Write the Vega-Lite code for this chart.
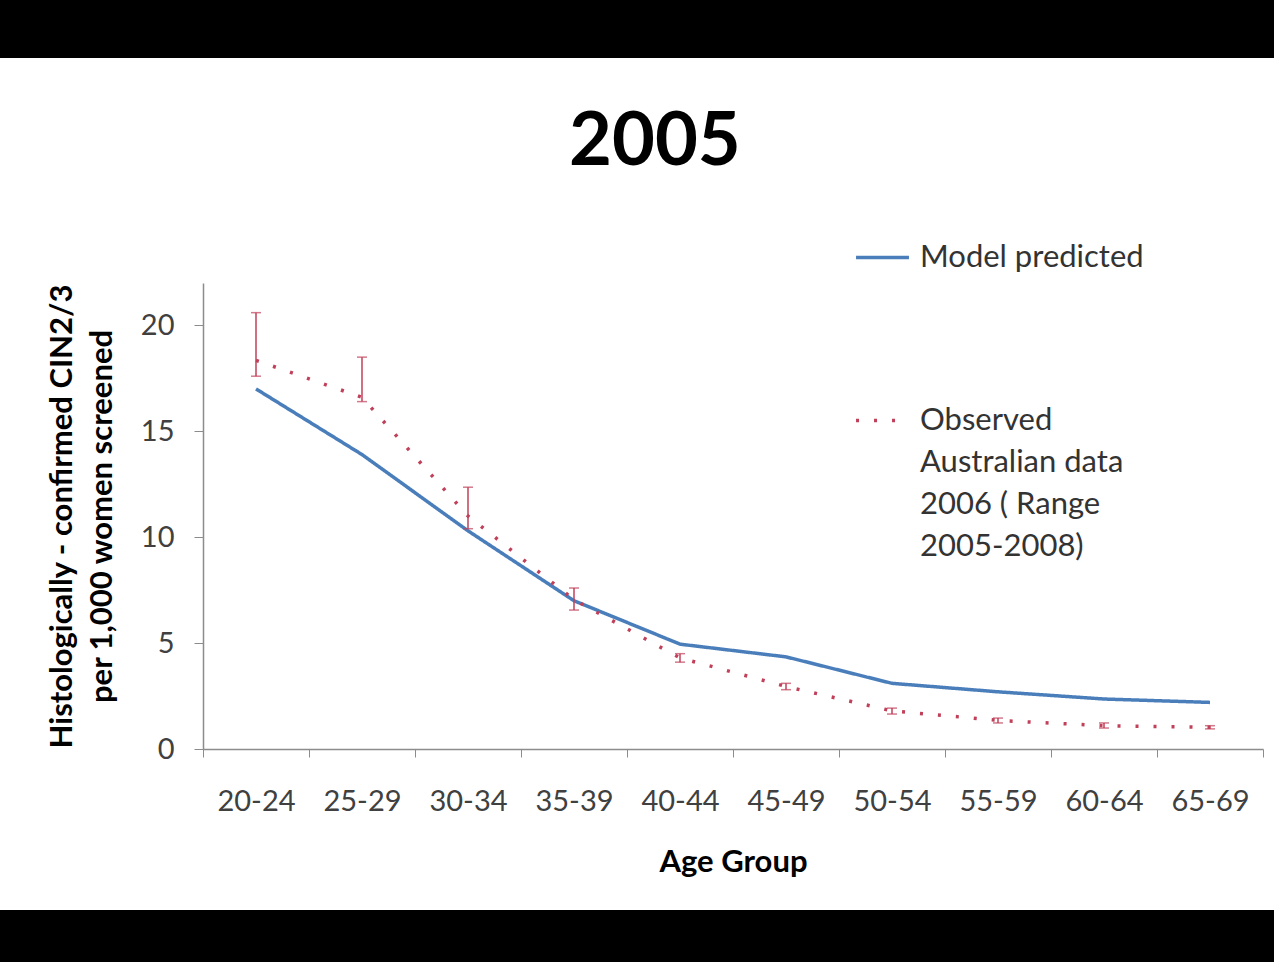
{
  "$schema": "https://vega.github.io/schema/vega-lite/v6.json",
  "padding": 0,
  "background": "white",
  "spacing": 48,
  "config": {"view": {"stroke": null}, "font": "Lato"},
  "resolve": {"legend": {"color": "independent", "strokeDash": "independent"}},
  "vconcat": [
    {
      "width": 1274, "height": 58,
      "view": {"fill": "black", "stroke": null},
      "data": {"values": [{"k": 1}]},
      "mark": {"type": "rect", "color": "black"},
      "encoding": {}
    },
    {
      "spacing": 33,
      "resolve": {"legend": {"color": "independent", "strokeDash": "independent"}},
      "vconcat": [
        {
          "spacing": 0,
          "resolve": {"legend": {"color": "independent", "strokeDash": "independent"}},
          "hconcat": [
            {
              "width": 46, "height": 10,
              "data": {"values": [{"k": 1}]},
              "mark": {"type": "rect", "opacity": 0},
              "encoding": {}
            },
            {
              "width": 1060,
              "height": 466,
              "title": {"text": "2005", "fontSize": 74, "fontWeight": "bold", "font": "Lato", "color": "black", "anchor": "middle", "frame": "bounds", "offset": 48},
              "data": {"values": [
                {"age": "20-24", "series": "Model predicted", "value": 17.0},
                {"age": "25-29", "series": "Model predicted", "value": 13.9},
                {"age": "30-34", "series": "Model predicted", "value": 10.3},
                {"age": "35-39", "series": "Model predicted", "value": 7.0},
                {"age": "40-44", "series": "Model predicted", "value": 4.95},
                {"age": "45-49", "series": "Model predicted", "value": 4.35},
                {"age": "50-54", "series": "Model predicted", "value": 3.1},
                {"age": "55-59", "series": "Model predicted", "value": 2.7},
                {"age": "60-64", "series": "Model predicted", "value": 2.36},
                {"age": "65-69", "series": "Model predicted", "value": 2.2},
                {"age": "20-24", "series": "Observed", "value": 18.35, "lo": 17.6, "hi": 20.6},
                {"age": "25-29", "series": "Observed", "value": 16.6, "lo": 16.4, "hi": 18.5},
                {"age": "30-34", "series": "Observed", "value": 11.0, "lo": 10.4, "hi": 12.36},
                {"age": "35-39", "series": "Observed", "value": 7.05, "lo": 6.56, "hi": 7.6},
                {"age": "40-44", "series": "Observed", "value": 4.3, "lo": 4.1, "hi": 4.5},
                {"age": "45-49", "series": "Observed", "value": 2.95, "lo": 2.8, "hi": 3.1},
                {"age": "50-54", "series": "Observed", "value": 1.8, "lo": 1.65, "hi": 1.93},
                {"age": "55-59", "series": "Observed", "value": 1.35, "lo": 1.23, "hi": 1.46},
                {"age": "60-64", "series": "Observed", "value": 1.1, "lo": 0.99, "hi": 1.23},
                {"age": "65-69", "series": "Observed", "value": 1.03, "lo": 0.95, "hi": 1.1}
              ]},
              "encoding": {
                "x": {
                  "field": "age", "type": "ordinal",
                  "scale": {"type": "band", "paddingInner": 0, "paddingOuter": 0},
                  "axis": {
                    "title": "Age Group", "titleFontSize": 31, "titleFontWeight": "bold", "titleColor": "black",
                    "labelFontSize": 29, "labelColor": "#404040", "labelAngle": 0, "tickBand": "extent",
                    "tickSize": 8, "labelPadding": 30, "titlePadding": 31,
                    "domainColor": "#8c8c8c", "tickColor": "#8c8c8c", "domainWidth": 1.5, "grid": false
                  }
                }
              },
              "layer": [
                {
                  "mark": {"type": "line", "strokeWidth": 3.5},
                  "encoding": {
                    "y": {
                      "field": "value", "type": "quantitative",
                      "scale": {"domain": [0, 22], "nice": false},
                      "axis": {
                        "values": [0, 5, 10, 15, 20],
                        "title": ["Histologically - confirmed CIN2/3", "per 1,000 women screened"],
                        "titleFontSize": 31, "titleFontWeight": "bold", "titleColor": "black", "titleLineHeight": 40,
                        "labelFontSize": 29, "labelColor": "#404040", "labelPadding": 20, "tickSize": 9,
                        "tickColor": "#8c8c8c", "domainColor": "#8c8c8c", "domainWidth": 1.5, "grid": false, "titlePadding": 22
                      }
                    },
                    "color": {
                      "field": "series", "type": "nominal",
                      "scale": {"domain": ["Model predicted", "Observed"], "range": ["#4a7ebb", "#c0405a"]},
                      "legend": {
                        "orient": "none", "legendX": 651, "legendY": -54, "title": null,
                        "labelFontSize": 31, "labelFont": "Lato", "labelColor": "#333333",
                        "symbolType": "stroke", "symbolSize": 2800, "symbolStrokeWidth": 3.5,
                        "labelOffset": 9, "labelLimit": 0, "rowPadding": 119,
                        "encode": {"labels": {"update": {"lineHeight": {"value": 42}}}},
                        "labelExpr": "datum.value == 'Observed' ? ['Observed', 'Australian data', '2006 ( Range', '2005-2008)'] : datum.label"
                      }
                    },
                    "strokeDash": {
                      "field": "series", "type": "nominal",
                      "scale": {"domain": ["Model predicted", "Observed"], "range": [[1, 0], [3, 15]]},
                      "legend": {
                        "orient": "none", "legendX": 651, "legendY": -54, "title": null,
                        "labelFontSize": 31, "labelFont": "Lato", "labelColor": "#333333",
                        "symbolType": "stroke", "symbolSize": 2800, "symbolStrokeWidth": 3.5,
                        "labelOffset": 9, "labelLimit": 0, "rowPadding": 119,
                        "encode": {"labels": {"update": {"lineHeight": {"value": 42}}}},
                        "labelExpr": "datum.value == 'Observed' ? ['Observed', 'Australian data', '2006 ( Range', '2005-2008)'] : datum.label"
                      }
                    }
                  }
                },
                {
                  "transform": [{"filter": "datum.series == 'Observed'"}],
                  "mark": {"type": "rule", "color": "#c0405a", "strokeWidth": 1.5},
                  "encoding": {
                    "y": {"field": "lo", "type": "quantitative"},
                    "y2": {"field": "hi"}
                  }
                },
                {
                  "transform": [{"filter": "datum.series == 'Observed'"}],
                  "mark": {"type": "tick", "color": "#c0405a", "size": 10, "thickness": 1.5},
                  "encoding": {"y": {"field": "lo", "type": "quantitative"}}
                },
                {
                  "transform": [{"filter": "datum.series == 'Observed'"}],
                  "mark": {"type": "tick", "color": "#c0405a", "size": 10, "thickness": 1.5},
                  "encoding": {"y": {"field": "hi", "type": "quantitative"}}
                }
              ]
            }
          ]
        },
        {
          "width": 1274, "height": 80,
          "view": {"fill": "black", "stroke": null},
          "data": {"values": [{"k": 1}]},
          "mark": {"type": "rect", "color": "black"},
          "encoding": {}
        }
      ]
    }
  ]
}
